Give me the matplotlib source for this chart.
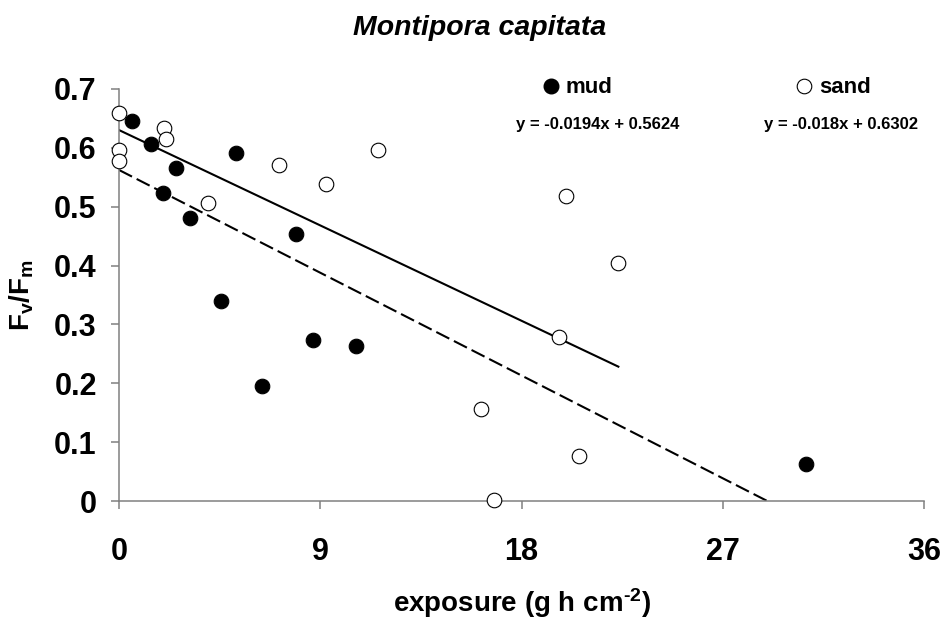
import numpy as np
import matplotlib.pyplot as plt
from matplotlib.lines import Line2D

plt.rcParams.update({
    "font.family": ["Liberation Sans", "DejaVu Sans"],
    "font.weight": "bold",
    "mathtext.fontset": "custom",
    "mathtext.rm": "Liberation Sans:bold",
    "mathtext.bf": "Liberation Sans:bold",
    "mathtext.it": "Liberation Sans:bold",
    "mathtext.default": "bf",
})

# mud (filled) and sand (open) readings
mud_x = [0.6, 1.43, 2.56, 5.22, 1.97, 3.16, 7.92, 4.56, 8.68, 10.6, 6.38, 30.72]
mud_y = [0.646, 0.606, 0.566, 0.592, 0.524, 0.481, 0.454, 0.340, 0.273, 0.264, 0.195, 0.063]
sand_x = [0, 2.03, 2.1, 0, 0, 7.17, 9.26, 11.58, 4.0, 22.33, 19.69, 20.57, 20.0, 16.18, 16.77]
sand_y = [0.660, 0.633, 0.615, 0.596, 0.577, 0.570, 0.538, 0.596, 0.507, 0.404, 0.279, 0.077,
          0.518, 0.157, 0.002]

# linear fits printed on the chart
fit_slope = {"mud": -0.0194, "sand": -0.018}
fit_icpt = {"mud": 0.5624, "sand": 0.6302}

x_ticks = [0, 9, 18, 27, 36]
y_ticks = [0, 0.1, 0.2, 0.3, 0.4, 0.5, 0.6, 0.7]
y_ticklabels = ["0", "0.1", "0.2", "0.3", "0.4", "0.5", "0.6", "0.7"]

fig = plt.figure(figsize=(9.46, 6.31), dpi=100)
ax = fig.add_axes([0.1258, 0.206, 0.851, 0.653])

# trendlines
for key, xs, ls in [("sand", sand_x, "-"), ("mud", mud_x, (0, (7, 2.5)))]:
    xl = np.array([0, max(xs)])
    yl = fit_slope[key] * xl + fit_icpt[key]
    ax.plot(xl, yl, color="black", lw=1.5, linestyle=ls, zorder=2)

ax.plot(mud_x, mud_y, "o", ms=10.5, mfc="black", mec="black", mew=0.8,
        linestyle="none", clip_on=False, zorder=5)
ax.plot(sand_x, sand_y, "o", ms=10.5, mfc="white", mec="black", mew=0.8,
        linestyle="none", clip_on=False, zorder=5)

ax.set_xlim(0, 36)
ax.set_ylim(0, 0.7)
ax.set_xticks(x_ticks)
ax.set_yticks(y_ticks)
ax.set_yticklabels(y_ticklabels)

for s in ["top", "right"]:
    ax.spines[s].set_visible(False)
for s in ["left", "bottom"]:
    ax.spines[s].set_color("#808080")
    ax.spines[s].set_linewidth(1.1)
ax.tick_params(axis="both", direction="out", length=6, width=1.1, color="#808080",
               labelsize=22)
ax.tick_params(axis="x", pad=20)
ax.tick_params(axis="y", pad=10)

ax.set_xlabel(r"exposure (g h cm$^{\text{-}2}$)", fontsize=20, fontweight="bold", labelpad=14)
ax.set_ylabel(r"$\mathbf{F_v/F_m}$", fontsize=20, labelpad=8)
ax.yaxis.set_label_coords(-0.103, 0.5)

fig.text(0.507, 1 - 35 / 631, "Montipora capitata", ha="center", va="baseline",
         fontsize=20.5, fontweight="bold", fontstyle="italic")

handles = [
    Line2D([], [], marker="o", ms=10.5, mfc="black", mec="black", linestyle="none"),
    Line2D([], [], marker="o", ms=10.5, mfc="white", mec="black", mew=0.8, linestyle="none"),
]
ax.legend(handles, ["mud", "sand"], ncol=2, frameon=False, fontsize=16,
          handlelength=0.7, handletextpad=0.3, columnspacing=8.3,
          loc="upper left", bbox_to_anchor=((543 - 119) / 805, 1.028),
          borderaxespad=0, borderpad=0)

ax.text(21.4, 0.640, "y = -0.0194x + 0.5624", ha="center", va="center", fontsize=12)
ax.text(32.3, 0.640, "y = -0.018x + 0.6302", ha="center", va="center", fontsize=12)

fig.savefig("out.png", dpi=100)
